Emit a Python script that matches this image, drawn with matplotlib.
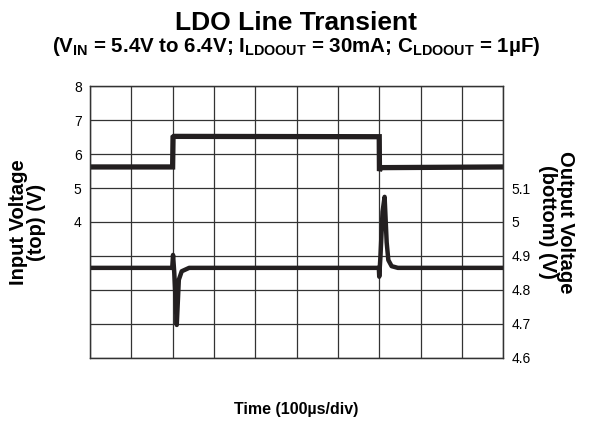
import matplotlib
matplotlib.use("Agg")
import matplotlib.pyplot as plt

plt.rcParams['font.family'] = ['Liberation Sans', 'DejaVu Sans']
plt.rcParams['mathtext.fontset'] = 'custom'
plt.rcParams['mathtext.rm'] = 'Liberation Sans:bold'
plt.rcParams['mathtext.bf'] = 'Liberation Sans:bold'
plt.rcParams['mathtext.it'] = 'Liberation Sans:bold'

# time in us (100us/div, 10 divisions)
t_in = [0, 200, 201, 203, 700, 700.5, 703, 1000]
v_in = [5.62, 5.62, 6.50, 6.52, 6.51, 5.50, 5.60, 5.62]

t_out = [0, 199, 201, 204, 210, 215, 222, 240, 699, 700, 703, 708, 713, 718, 722, 730, 745, 1000]
v_out = [4.865, 4.865, 4.903, 4.85, 4.697, 4.83, 4.855, 4.865, 4.865, 4.839, 4.90, 5.03,
         5.074, 4.94, 4.888, 4.87, 4.865, 4.865]

left_ticks = [4, 5, 6, 7, 8]
right_ticks = [4.6, 4.7, 4.8, 4.9, 5.0, 5.1]
right_labels = ['4.6', '4.7', '4.8', '4.9', '5', '5.1']

trace_col = '#231f20'

fig = plt.figure(figsize=(5.92, 4.37), dpi=100)
ax = fig.add_axes([0.152, 0.181, 0.698, 0.622])
ax2 = ax.twinx()

ax.plot(t_in, v_in, color=trace_col, lw=3.8, solid_joinstyle='miter')
ax2.plot(t_out, v_out, color=trace_col, lw=3.2)

ax.set_xlim(0, 1000)
ax.set_ylim(0, 8)
ax2.set_ylim(4.6, 5.4)
ax.set_xticks(range(0, 1001, 100))
ax.set_xticklabels([])
ax.set_yticks(range(0, 9))
ax.set_yticklabels(['' if v < 4 else str(v) for v in range(0, 9)])
ax2.set_yticks(right_ticks)
ax2.set_yticklabels(right_labels)
ax.grid(True, color='#333333', lw=0.9)
ax.tick_params(length=0, labelsize=10, pad=6)
ax2.tick_params(length=0, labelsize=10, pad=6)
for s in list(ax.spines.values()) + list(ax2.spines.values()):
    s.set_color('#333333')
    s.set_linewidth(0.9)

ax.set_ylabel('Input Voltage\n(top) (V)', fontsize=14.5, fontweight='bold', labelpad=20, linespacing=0.95)
ax2.set_ylabel('Output Voltage\n(bottom) (V)', fontsize=14.5, fontweight='bold', rotation=-90,
               labelpad=32, linespacing=0.95)
ax.set_xlabel('Time (100µs/div)', fontsize=11.5, fontweight='bold', labelpad=26)

fig.text(0.5, 0.948, 'LDO Line Transient', ha='center', va='center', fontsize=19, fontweight='bold')
fig.text(0.5, 0.893, r'(V$_{\mathbf{IN}}$ = 5.4V to 6.4V; I$_{\mathbf{LDOOUT}}$ = 30mA; C$_{\mathbf{LDOOUT}}$ = 1µF)',
         ha='center', va='center', fontsize=14.8, fontweight='bold')

fig.savefig('out.png', dpi=100)
